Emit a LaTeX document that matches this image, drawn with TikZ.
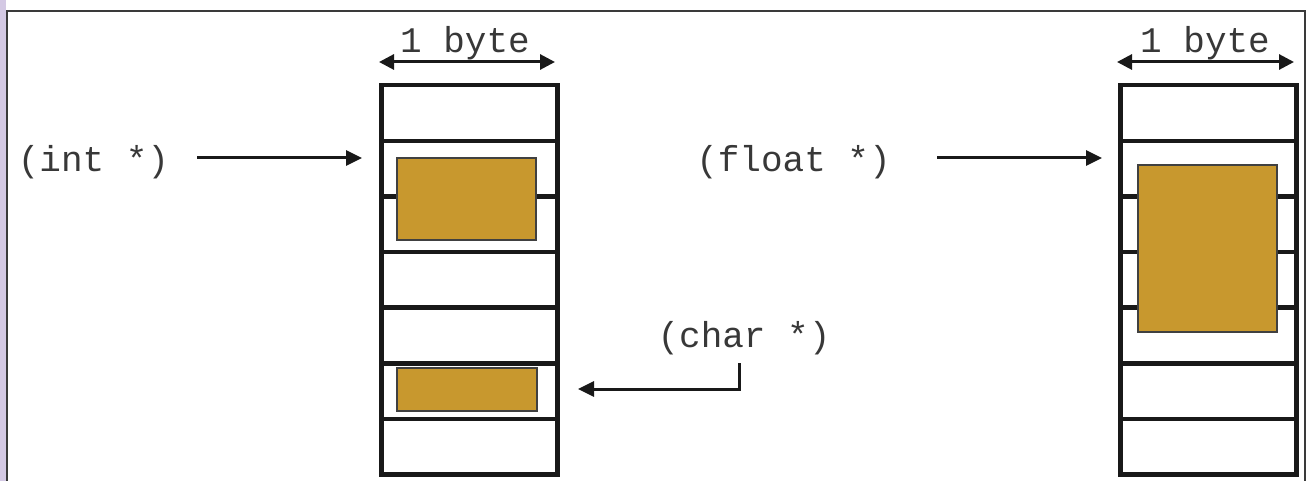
\documentclass[tikz,border=0pt]{standalone}
\usepackage{fontspec}
\setmonofont{Liberation Mono}
\usetikzlibrary{arrows.meta}
\definecolor{gold}{HTML}{C8982E}
\definecolor{framegray}{HTML}{3A3A3A}
\definecolor{lav}{HTML}{D4C9E4}
\tikzset{
  cell/.style={draw=black!90, fill=white, line width=4.5pt, minimum width=176pt, minimum height=55.6pt, inner sep=0pt, anchor=north west},
  valbox/.style={draw=black!75, fill=gold, line width=1.2pt, inner sep=0pt},
  lbl/.style={font=\ttfamily\fontsize{36}{36}\selectfont, text=black!78, inner sep=0pt, anchor=base},
  ptr/.style={line width=3pt, black!90, -{Triangle[length=16pt,width=15pt]}},
  bytearrow/.style={line width=3pt, black!90, {Triangle[length=15pt,width=15pt]}-{Triangle[length=15pt,width=15pt]}}
}
\begin{document}
\begin{tikzpicture}[x=1pt,y=-1pt]
\useasboundingbox (0,0) rectangle (1312,481);
\clip (0,0) rectangle (1312,481);
\fill[lav] (0,0) rectangle (5.5,481);
\draw[framegray, line width=2pt] (7,11) rectangle (1305,500);
% left column
\foreach \i in {0,...,6} {
  \node[cell] (L\i) at (379, 83+55.6*\i) {};
}
% right column
\foreach \i in {0,...,6} {
  \node[cell] (R\i) at (1118, 83+55.6*\i) {};
}
% values
\node[valbox, minimum width=139pt, minimum height=82pt] (intval) at (466.5,199) {};
\node[valbox, minimum width=140pt, minimum height=43pt] (charval) at (467,389.5) {};
\node[valbox, minimum width=139pt, minimum height=167pt] (floatval) at (1207.5,248.5) {};
% labels
\node[lbl] (bytel) at (465,53) {1 byte};
\node[lbl] (byter) at (1205,53) {1 byte};
\node[lbl] (intlbl) at (93.5,172) {(int *)};
\node[lbl] (floatlbl) at (793.5,172) {(float *)};
\node[lbl] (charlbl) at (744,347) {(char *)};
% byte arrows
\coordinate (bl1) at (379,62);
\coordinate (bl2) at (555,62);
\coordinate (br1) at (1117,62);
\coordinate (br2) at (1294,62);
\draw[bytearrow] (bl1) -- (bl2);
\draw[bytearrow] (br1) -- (br2);
% pointers
\coordinate (ints) at (197,158);
\coordinate (inte) at (362,158);
\draw[ptr] (ints) -- (inte);
\coordinate (floats) at (937,158);
\coordinate (floate) at (1102,158);
\draw[ptr] (floats) -- (floate);
\coordinate (chars) at (739,363);
\coordinate (chare) at (578,389);
\draw[ptr] (chars) |- (chare);
\end{tikzpicture}
\end{document}
